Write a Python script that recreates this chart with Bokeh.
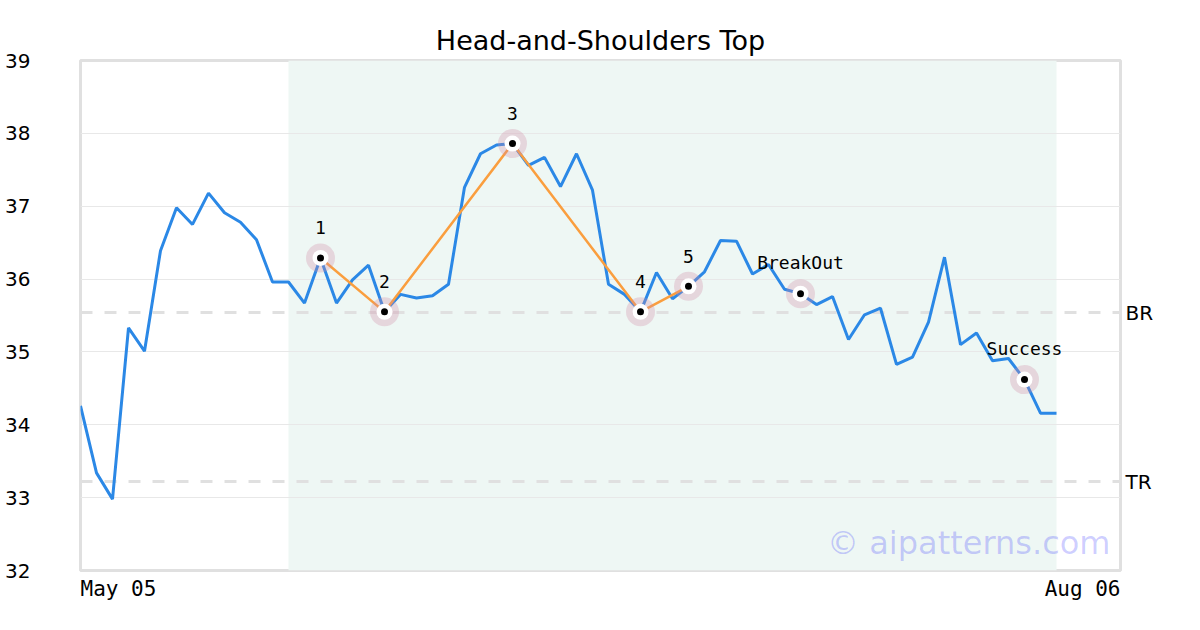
from bokeh.plotting import figure
from bokeh.models import Range1d, FixedTicker, LinearAxis, Span, BoxAnnotation, Label, ColumnDataSource
from bokeh.embed import file_html
from bokeh.resources import INLINE

# ---- data ----
price = [34.26, 33.34, 32.98, 35.33, 35.01, 36.39, 36.98, 36.75, 37.18, 36.91,
         36.78, 36.54, 35.96, 35.96, 35.67, 36.29, 35.67, 35.99, 36.19, 35.55,
         35.79, 35.74, 35.77, 35.93, 37.26, 37.72, 37.84, 37.86, 37.56, 37.67,
         37.27, 37.72, 37.22, 35.93, 35.79, 35.55, 36.09, 35.73, 35.90, 36.10,
         36.53, 36.52, 36.07, 36.20, 35.86, 35.80, 35.65, 35.76, 35.17, 35.51,
         35.60, 34.83, 34.93, 35.41, 36.30, 35.10, 35.26, 34.88, 34.91, 34.62,
         34.16, 34.16]
day = list(range(len(price)))

x_tick_idx = [0, 65]
x_tick_labels = ["May 05", "Aug 06"]
y_ticks = [32, 33, 34, 35, 36, 37, 38, 39]

pattern_idx = [15, 19, 27, 35, 38]
pattern_labels = ["1", "2", "3", "4", "5"]
event_idx = [45, 59]
event_labels = ["BreakOut", "Success"]

level_values = [35.54, 33.22]
level_names = ["BR", "TR"]

zone_start, zone_end = 13, 61

pattern_y = [price[i] for i in pattern_idx]
event_y = [price[i] for i in event_idx]
mark_x = pattern_idx + event_idx
mark_y = pattern_y + event_y

# ---- figure ----
p = figure(width=1200, height=630, output_backend="svg", toolbar_location=None,
           x_range=Range1d(x_tick_idx[0], x_tick_idx[-1]),
           y_range=Range1d(y_ticks[0], y_ticks[-1]),
           min_border_left=80, min_border_right=80, min_border_top=60, min_border_bottom=60,
           title="Head-and-Shoulders Top")
p.title.align = "center"
p.title.text_font = "DejaVu Sans"
p.title.text_font_size = "27px"
p.title.text_font_style = "normal"
p.title.text_color = "#000000"
p.title.standoff = 10
p.outline_line_color = "#e0e0e0"
p.outline_line_width = 3
p.background_fill_color = "white"
p.border_fill_color = "white"

ya = p.yaxis[0]
ya.ticker = FixedTicker(ticks=y_ticks)
ya.major_tick_out = 0
ya.major_tick_in = 0
ya.minor_tick_line_color = None
ya.axis_line_color = None
ya.major_label_text_font = "DejaVu Sans"
ya.major_label_text_font_size = "20px"
ya.major_label_text_color = "#000000"
ya.major_label_standoff = 50

# bottom axis: end labels, padded with no-break spaces so they sit inside the ends
pad = "\u00a0" * 6
xa = p.xaxis[0]
xa.ticker = FixedTicker(ticks=x_tick_idx)
xa.major_label_overrides = {x_tick_idx[0]: pad + x_tick_labels[0],
                            x_tick_idx[1]: x_tick_labels[1] + pad}
xa.major_tick_out = 0
xa.major_tick_in = 0
xa.minor_tick_line_color = None
xa.axis_line_color = None
xa.major_label_text_font = "DejaVu Sans Mono"
xa.major_label_text_font_size = "21px"
xa.major_label_text_color = "#000000"
xa.major_label_standoff = 6

p.xgrid.visible = False
p.ygrid.ticker = FixedTicker(ticks=y_ticks)
p.ygrid.grid_line_color = "#e8e8e8"
p.ygrid.grid_line_width = 1

overrides = {}
for v, n in zip(level_values, level_names):
    overrides[v] = n
ra = LinearAxis(ticker=FixedTicker(ticks=level_values), major_label_overrides=overrides,
                major_tick_out=0, major_tick_in=0, minor_tick_line_color=None,
                axis_line_color=None, major_label_standoff=5,
                major_label_text_font="DejaVu Sans", major_label_text_font_size="20px",
                major_label_text_color="#000000")
p.add_layout(ra, "right")

zone = BoxAnnotation(left=zone_start, right=zone_end, fill_color="#eef7f4", fill_alpha=1.0,
                     line_color=None, level="image")
p.add_layout(zone)

for v in level_values:
    p.add_layout(Span(location=v, dimension="width", line_color="#e0e0e0", line_width=3,
                      line_dash="12 12", level="underlay"))

src = ColumnDataSource(dict(x=day, y=price))
p.line("x", "y", source=src, line_color="#2b88e6", line_width=3)
p.line(pattern_idx, pattern_y, line_color="#fa9e3e", line_width=2.5)

p.scatter(mark_x, mark_y, size=29, fill_color="#d08aa6", fill_alpha=0.3, line_color=None)
p.scatter(mark_x, mark_y, size=16, fill_color="white", line_color=None)
p.scatter(mark_x, mark_y, size=7, fill_color="black", line_color=None)

for xi, yi, t in zip(pattern_idx, pattern_y, pattern_labels):
    p.add_layout(Label(x=xi, y=yi, text=t, y_offset=30, text_align="center",
                       text_baseline="alphabetic", text_font="DejaVu Sans Mono",
                       text_font_size="18px", text_color="#000000"))
for xi, yi, t in zip(event_idx, event_y, event_labels):
    p.add_layout(Label(x=xi, y=yi, text=t, y_offset=31, text_align="center",
                       text_baseline="alphabetic", text_font="DejaVu Sans Mono",
                       text_font_size="18px", text_color="#000000"))

p.add_layout(Label(x=x_tick_idx[-1], y=y_ticks[0], text="© aipatterns.com", x_offset=-10,
                   y_offset=28, text_align="right", text_baseline="alphabetic",
                   text_font="DejaVu Sans", text_font_size="32px",
                   text_color="#0000ff", text_alpha=0.2))

open("out.html", "w").write(file_html(p, INLINE))
